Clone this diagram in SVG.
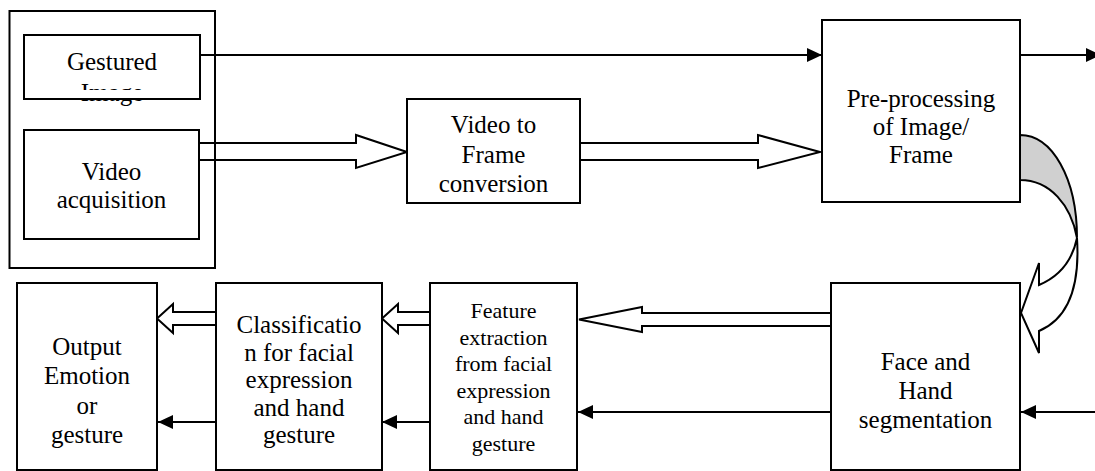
<svg xmlns="http://www.w3.org/2000/svg" width="1095" height="471" viewBox="0 0 1095 471">
  <defs>
    <marker id="head" markerUnits="userSpaceOnUse" markerWidth="16" markerHeight="14" refX="15" refY="7" orient="auto">
      <path d="M0,0 L15,7 L0,14 Z" fill="#000000"/>
    </marker>
  </defs>

  <rect width="1095" height="471" fill="#ffffff"/>

  <!-- connectors -->
  <g id="connectors" stroke="#000000" stroke-width="2">
    <!-- thin arrows -->
    <g fill="none">
      <line x1="200" y1="55" x2="822" y2="55" marker-end="url(#head)"/>
      <line x1="1020" y1="55" x2="1101" y2="55" marker-end="url(#head)"/>
      <line x1="1095" y1="412" x2="1021" y2="412" marker-end="url(#head)"/>
      <line x1="831" y1="412" x2="578" y2="412" marker-end="url(#head)"/>
      <line x1="430" y1="422" x2="382" y2="422" marker-end="url(#head)"/>
      <line x1="216" y1="422" x2="158" y2="422" marker-end="url(#head)"/>
    </g>

    <!-- block arrows -->
    <g fill="#ffffff">
      <polygon points="199,143 356,143 356,135 407,152 356,168 356,160 199,160"/>
      <polygon points="580,143 758,143 758,135 820,152 758,168 758,160 580,160"/>
      <polygon points="831,313 642,313 642,307 579,319.5 642,332 642,326 831,326"/>
      <polygon points="430,312 398,312 398,304 382,318.5 398,333 398,325 430,325"/>
      <polygon points="216,312 173,312 173,304 157,318.5 173,333 173,325 216,325"/>
      <!-- curved arrow from pre-processing down to segmentation -->
      <path d="M1077,238 C1080,285 1070,318 1039,331 L1039,353 L1021,313 L1039,263 L1039,285 C1058,277 1072,262 1077,238 Z"/>
    </g>
    <path fill="#d0d0d0" d="M1020,135 C1052,135 1077,178 1077,238 C1071,205 1050,180 1020,180 Z"/>
  </g>

  <!-- outer frame around the two inputs -->
  <rect id="input-frame" x="9.5" y="11" width="205.5" height="257" fill="none" stroke="#000000" stroke-width="2"/>

  <g id="gestured-image">
    <rect x="24" y="35" width="176" height="64" fill="#ffffff" stroke="#000000" stroke-width="2"/>
    <text x="112" y="70" font-family="Liberation Serif" font-size="25" text-anchor="middle">Gestured</text>
    <text x="112" y="101" font-family="Liberation Serif" font-size="25" text-anchor="middle">Image</text>
    <!-- the second line is cut short by the box's text area -->
    <rect x="25" y="90" width="174" height="8" fill="#ffffff"/>
    <line x1="24" y1="99" x2="200" y2="99" stroke="#000000" stroke-width="2"/>
    <line x1="24" y1="88" x2="24" y2="100" stroke="#000000" stroke-width="2"/>
    <line x1="200" y1="88" x2="200" y2="100" stroke="#000000" stroke-width="2"/>
  </g>

  <g id="video-acquisition">
    <rect x="24" y="130" width="175" height="109" fill="#ffffff" stroke="#000000" stroke-width="2"/>
    <text x="111.5" y="180" font-family="Liberation Serif" font-size="25" text-anchor="middle">Video</text>
    <text x="111.5" y="208" font-family="Liberation Serif" font-size="25" text-anchor="middle">acquisition</text>
  </g>

  <g id="video-to-frame">
    <rect x="407" y="99" width="173" height="104" fill="#ffffff" stroke="#000000" stroke-width="2"/>
    <text x="493.5" y="133" font-family="Liberation Serif" font-size="25" text-anchor="middle">Video to</text>
    <text x="493.5" y="163" font-family="Liberation Serif" font-size="25" text-anchor="middle">Frame</text>
    <text x="493.5" y="192" font-family="Liberation Serif" font-size="25" text-anchor="middle">conversion</text>
  </g>

  <g id="pre-processing">
    <rect x="822" y="20" width="198" height="182" fill="#ffffff" stroke="#000000" stroke-width="2"/>
    <text x="921" y="107" font-family="Liberation Serif" font-size="25" text-anchor="middle">Pre-processing</text>
    <text x="921" y="135" font-family="Liberation Serif" font-size="25" text-anchor="middle">of Image/</text>
    <text x="921" y="163" font-family="Liberation Serif" font-size="25" text-anchor="middle">Frame</text>
  </g>

  <g id="segmentation">
    <rect x="831" y="283" width="189" height="187" fill="#ffffff" stroke="#000000" stroke-width="2"/>
    <text x="925.5" y="370" font-family="Liberation Serif" font-size="25" text-anchor="middle">Face and</text>
    <text x="925.5" y="399" font-family="Liberation Serif" font-size="25" text-anchor="middle">Hand</text>
    <text x="925.5" y="428" font-family="Liberation Serif" font-size="25" text-anchor="middle">segmentation</text>
  </g>

  <g id="feature-extraction">
    <rect x="430" y="283" width="147" height="187" fill="#ffffff" stroke="#000000" stroke-width="2"/>
    <text x="503.5" y="318" font-family="Liberation Serif" font-size="22" text-anchor="middle">Feature</text>
    <text x="503.5" y="344.5" font-family="Liberation Serif" font-size="22" text-anchor="middle">extraction</text>
    <text x="503.5" y="371" font-family="Liberation Serif" font-size="22" text-anchor="middle">from facial</text>
    <text x="503.5" y="397.5" font-family="Liberation Serif" font-size="22" text-anchor="middle">expression</text>
    <text x="503.5" y="424" font-family="Liberation Serif" font-size="22" text-anchor="middle">and hand</text>
    <text x="503.5" y="450.5" font-family="Liberation Serif" font-size="22" text-anchor="middle">gesture</text>
  </g>

  <g id="classification">
    <rect x="216" y="283" width="166" height="187" fill="#ffffff" stroke="#000000" stroke-width="2"/>
    <text x="299" y="333" font-family="Liberation Serif" font-size="25" text-anchor="middle">Classificatio</text>
    <text x="299" y="360.5" font-family="Liberation Serif" font-size="25" text-anchor="middle">n for facial</text>
    <text x="299" y="388" font-family="Liberation Serif" font-size="25" text-anchor="middle">expression</text>
    <text x="299" y="415.5" font-family="Liberation Serif" font-size="25" text-anchor="middle">and hand</text>
    <text x="299" y="443" font-family="Liberation Serif" font-size="25" text-anchor="middle">gesture</text>
  </g>

  <g id="output">
    <rect x="17" y="283" width="140" height="187" fill="#ffffff" stroke="#000000" stroke-width="2"/>
    <text x="87" y="355" font-family="Liberation Serif" font-size="25" text-anchor="middle">Output</text>
    <text x="87" y="384" font-family="Liberation Serif" font-size="25" text-anchor="middle">Emotion</text>
    <text x="87" y="413.5" font-family="Liberation Serif" font-size="25" text-anchor="middle">or</text>
    <text x="87" y="443" font-family="Liberation Serif" font-size="25" text-anchor="middle">gesture</text>
  </g>
</svg>
